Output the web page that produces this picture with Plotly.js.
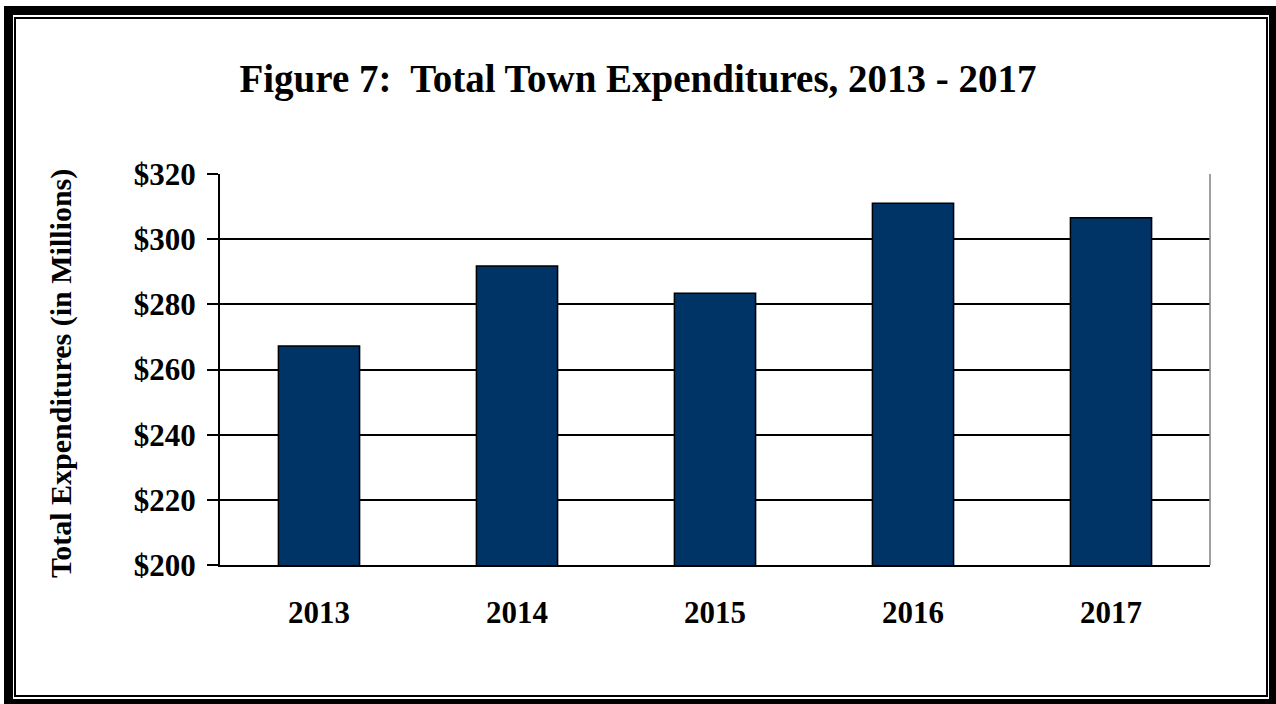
<!DOCTYPE html>
<html>
<head>
<meta charset="utf-8">
<script src="https://cdn.plot.ly/plotly-3.0.1.min.js"></script>
<style>
  body { margin: 0; background: #fff; overflow: hidden; }
  #chart { position: absolute; left: 0; top: 0; width: 1276px; height: 704px; }
  .frame-outer { position: absolute; left: 4px; top: 6px; width: 1256px; height: 684px; border: 9px solid #000; pointer-events: none; }
  .frame-inner { position: absolute; left: 14px; top: 17px; width: 1250px; height: 676px; border: 2px solid #000; pointer-events: none; }
</style>
</head>
<body>
<div id="chart"></div>
<div class="frame-outer"></div>
<div class="frame-inner"></div>
<script>
// Total town expenditures, millions of dollars
const years = ['2013', '2014', '2015', '2016', '2017'];
const expenditures = [267.2, 291.8, 283.4, 311.0, 306.6];
const yTicks = [200, 220, 240, 260, 280, 300, 320];
const yTickText = yTicks.map(v => '<b>$' + v + '</b>');

const data = [{
    x: years,
    y: expenditures,
    type: 'bar',
    marker: {
        color: '#003366',
        line: { color: '#000000', width: 1.5 }
    },
    hoverinfo: 'none'
}];

const serif = '"Liberation Serif", "Times New Roman", serif';

const layout = {
    width: 1276,
    height: 704,
    paper_bgcolor: '#ffffff',
    plot_bgcolor: '#ffffff',
    showlegend: false,
    bargap: 0.59,
    title: {
        text: '<b>Figure 7:  Total Town Expenditures, 2013 - 2017</b>',
        font: { family: serif, size: 39, color: '#000' },
        x: 0.5,
        xanchor: 'center',
        y: 0.889,
        yanchor: 'middle'
    },
    xaxis: {
        tickfont: { family: serif, size: 31, color: '#000' },
        tickprefix: '<b>',
        ticksuffix: '</b>',
        showline: true,
        linecolor: '#000',
        linewidth: 2,
        ticks: '',
        ticklabelstandoff: 19,
        fixedrange: true
    },
    yaxis: {
        range: [200, 320],
        tickvals: yTicks,
        ticktext: yTickText,
        tickfont: { family: serif, size: 31, color: '#000' },
        showgrid: true,
        gridcolor: '#000',
        gridwidth: 2,
        showline: true,
        linecolor: '#000',
        linewidth: 2,
        ticks: 'outside',
        ticklen: 11,
        tickwidth: 2,
        tickcolor: '#000',
        ticklabelstandoff: 5,
        zeroline: false,
        fixedrange: true
    },
    annotations: [{
        text: '<b>Total Expenditures (in Millions)</b>',
        font: { family: serif, size: 30, color: '#000' },
        textangle: -90,
        xref: 'paper', yref: 'paper',
        x: -0.16, y: 0.49,
        xanchor: 'center', yanchor: 'middle',
        showarrow: false
    }],
    shapes: [{
        type: 'line', xref: 'paper', yref: 'paper',
        x0: 1, x1: 1, y0: 0, y1: 1,
        line: { color: '#808080', width: 1.5 }
    }],
    margin: { t: 174, r: 66, l: 220, b: 139 }
};

const config = {
    displayModeBar: false,
    staticPlot: true
};

Plotly.newPlot('chart', data, layout, config);
</script>
</body>
</html>
